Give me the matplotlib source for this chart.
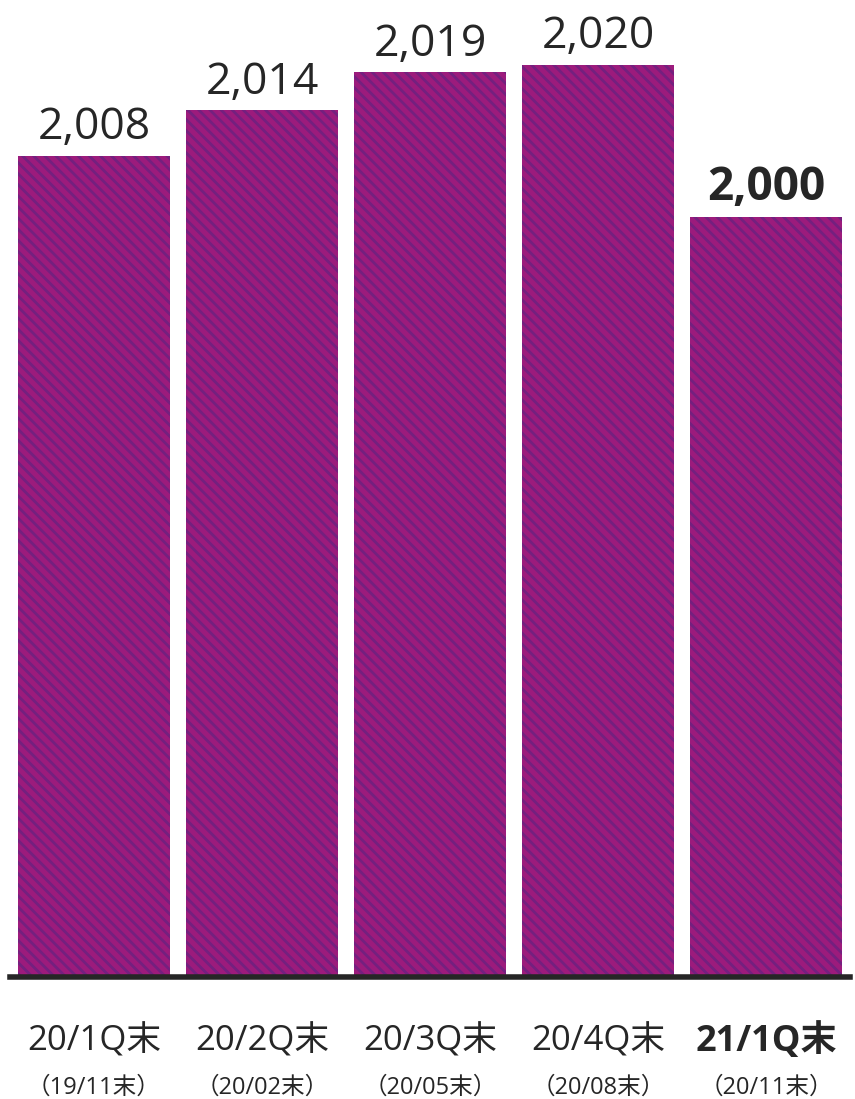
import matplotlib.pyplot as plt
import matplotlib.transforms as mtransforms

plt.rcParams['font.family'] = ['Open Sans', 'Noto Sans CJK JP', 'DejaVu Sans']
plt.rcParams['hatch.linewidth'] = 2.0

# 四半期末の値
quarters = ['20/1Q末', '20/2Q末', '20/3Q末', '20/4Q末', '21/1Q末']
periods = ['（19/11末）', '（20/02末）', '（20/05末）', '（20/08末）', '（20/11末）']
values = [2008, 2014, 2019, 2020, 2000]

fig = plt.figure(figsize=(8.55, 10.99), dpi=100)
ax = fig.add_axes([10 / 855, 122 / 1099, 840 / 855, 977 / 1099])

x = list(range(len(values)))
ax.bar(x, values, width=0.905, color='#9c1b7c', edgecolor='#74207f',
       hatch='\\\\\\', linewidth=0)

ax.set_xlim(-0.5, 4.5)
ax.set_ylim(1900, 2028.5)

# 棒の上に値を表示
for i, v in enumerate(values):
    last = i == len(values) - 1
    ax.annotate(f'{v:,}', (i, v), xytext=(0, 4), textcoords='offset points',
                ha='center', va='bottom', fontsize=32 if not last else 33,
                fontweight='bold' if last else 'normal', color='#262626')

# 軸の下のラベル（2段）
trans = mtransforms.blended_transform_factory(ax.transData, ax.transAxes)
for i, (q, p) in enumerate(zip(quarters, periods)):
    last = i == len(quarters) - 1
    ax.text(i, -0.066, q, transform=trans, ha='center', va='center',
            fontsize=25 if not last else 26,
            fontweight='bold' if last else 'normal', color='#262626')
    ax.text(i, -0.113, p, transform=trans, ha='center', va='center',
            fontsize=17, color='#262626')

for s in ['top', 'left', 'right']:
    ax.spines[s].set_visible(False)
ax.spines['bottom'].set_linewidth(4)
ax.spines['bottom'].set_color('#262626')
ax.set_xticks([])
ax.set_yticks([])

plt.savefig('out.png', dpi=100)
